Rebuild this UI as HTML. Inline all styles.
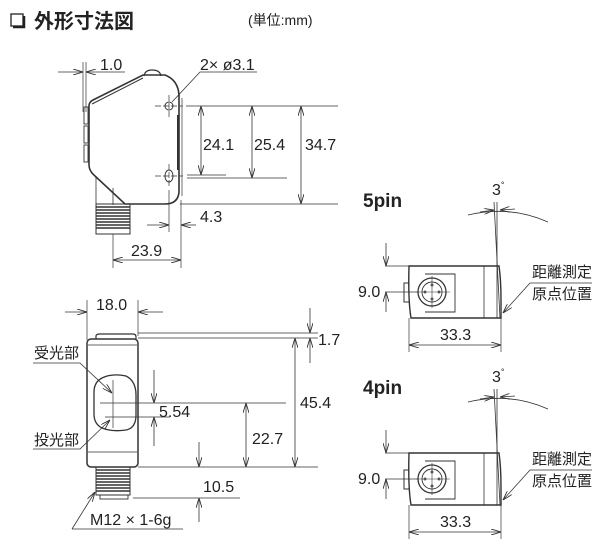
<!DOCTYPE html>
<html><head><meta charset="utf-8"><style>
html,body{margin:0;padding:0;background:#fff;width:610px;height:557px;overflow:hidden}
svg{display:block}
text{font-family:"Liberation Sans","Noto Sans CJK JP",sans-serif;fill:#222}
</style></head><body>
<svg width="610" height="557" viewBox="0 0 610 557" xmlns="http://www.w3.org/2000/svg">
<defs>
<marker id="a" viewBox="0 0 10 6" refX="10" refY="3" markerWidth="10" markerHeight="6" orient="auto-start-reverse" markerUnits="userSpaceOnUse"><path d="M0,0 L10,3 L0,6" fill="none" stroke="#333" stroke-width="0.9"/></marker>
</defs>
<g stroke="#333" fill="none" stroke-width="1">
<rect x="11" y="14" width="12" height="12" fill="#fff" stroke="#222" stroke-width="1.3"/>
<path d="M13,27 H24 V16" stroke="#222" stroke-width="2.5"/>
</g>
<text x="34" y="28" font-size="20" font-weight="bold">外形寸法図</text>
<text x="248" y="25" font-size="14">(単位:mm)</text>

<!-- TOP VIEW -->
<g stroke="#333" fill="none" stroke-width="1">
<line x1="83" y1="62" x2="83" y2="112" stroke-width="0.7"/>
<line x1="86" y1="62" x2="86" y2="112" stroke-width="0.7"/>
<line x1="58" y1="72" x2="83" y2="72" marker-end="url(#a)" stroke-width="0.8"/>
<line x1="125" y1="72" x2="86" y2="72" marker-end="url(#a)" stroke-width="0.8"/>
<path d="M89,106 Q89,102 93,100 L143,75 L165,75 Q178,80 179,95 L179,192 Q178,204 165,204 L125,204 L95,176 Q89,171 89,165 Z" stroke-width="1.6"/>
<path d="M92,104 L143,78" stroke-width="1"/>
<path d="M144,76 Q145,70 152,70 Q160,70 161,76" stroke-width="1.2"/>
<path d="M182,98 L182,196" stroke-width="0.7"/>
<rect x="84" y="107" width="4" height="17" stroke-width="0.9"/>
<rect x="84" y="126" width="4" height="17" stroke-width="0.9"/>
<rect x="84" y="145" width="4" height="17" stroke-width="0.9"/>
<line x1="178" y1="115" x2="178" y2="170" stroke-width="2"/>
<line x1="96" y1="176" x2="96" y2="204" stroke-width="0.8"/>
<line x1="113" y1="188" x2="113" y2="205" stroke-width="0.8"/>
<rect x="96" y="204" width="34" height="30" stroke-width="1"/>
<path d="M96,207H130M96,210H130M96,213H130M96,216H130M96,219H130M96,222H130M96,225H130M96,228H130" stroke-width="1.4"/>
<circle cx="169" cy="106" r="4" stroke-width="1"/>
<ellipse cx="169" cy="176" rx="4" ry="6" stroke-width="1"/>
<path d="M155,106H183M169,95V117M155,176H183M169,164V188" stroke-width="0.7" stroke-dasharray="6,2"/>
<path d="M172,102 L200,72 H257" stroke-width="0.8"/>
<line x1="186" y1="106" x2="338" y2="106" stroke-width="0.8"/>
<line x1="187" y1="175" x2="226" y2="175" stroke-width="0.8"/>
<line x1="187" y1="178" x2="287" y2="178" stroke-width="0.8"/>
<line x1="180" y1="204" x2="338" y2="204" stroke-width="0.8"/>
<line x1="201" y1="106" x2="201" y2="175" marker-start="url(#a)" marker-end="url(#a)" stroke-width="0.8"/>
<line x1="252" y1="106" x2="252" y2="178" marker-start="url(#a)" marker-end="url(#a)" stroke-width="0.8"/>
<line x1="301" y1="106" x2="301" y2="204" marker-start="url(#a)" marker-end="url(#a)" stroke-width="0.8"/>
<line x1="169" y1="190" x2="169" y2="232" stroke-width="0.7"/>
<line x1="181" y1="200" x2="181" y2="268" stroke-width="0.7"/>
<line x1="147" y1="225" x2="169" y2="225" marker-end="url(#a)" stroke-width="0.8"/>
<line x1="196" y1="225" x2="181" y2="225" marker-end="url(#a)" stroke-width="0.8"/>
<line x1="113" y1="234" x2="113" y2="268" stroke-width="0.7"/>
<line x1="113" y1="260" x2="181" y2="260" marker-start="url(#a)" marker-end="url(#a)" stroke-width="0.8"/>
</g>
<g font-size="16">
<text x="100" y="70">1.0</text>
<text x="200" y="70">2× ø3.1</text>
<text x="203" y="150">24.1</text>
<text x="254" y="150">25.4</text>
<text x="305" y="150">34.7</text>
<text x="200" y="222">4.3</text>
<text x="131" y="256">23.9</text>
</g>

<!-- BOTTOM VIEW -->
<g stroke="#333" fill="none" stroke-width="1">
<line x1="87" y1="300" x2="87" y2="340" stroke-width="0.7"/>
<line x1="138" y1="300" x2="138" y2="336" stroke-width="0.7"/>
<line x1="65" y1="312" x2="87" y2="312" marker-end="url(#a)" stroke-width="0.8"/>
<line x1="163" y1="312" x2="138" y2="312" marker-end="url(#a)" stroke-width="0.8"/>
<rect x="87" y="339" width="51" height="128" rx="4" stroke-width="1.5"/>
<path d="M96,339 L96,336 Q96,334 100,334 L133,334 Q136,334 136,337 L136,339" stroke-width="1.2"/>
<line x1="88" y1="345" x2="137" y2="345" stroke-width="0.8"/>
<line x1="88" y1="452" x2="137" y2="452" stroke-width="0.8"/>
<path d="M102,378 Q112,373 126,376 Q136,381 136,395 L136,415 Q136,428 126,430 Q112,432 102,428 Q94,424 94,414 L94,392 Q94,382 102,378 Z" stroke-width="1.3"/>
<line x1="113" y1="380" x2="113" y2="428" stroke-width="0.7"/>
<line x1="138" y1="333" x2="318" y2="333" stroke-width="0.8"/>
<line x1="138" y1="338" x2="318" y2="338" stroke-width="0.8"/>
<line x1="310" y1="308" x2="310" y2="333" marker-end="url(#a)" stroke-width="0.8"/>
<line x1="310" y1="363" x2="310" y2="338" marker-end="url(#a)" stroke-width="0.8"/>
<line x1="295" y1="338" x2="295" y2="467" marker-start="url(#a)" marker-end="url(#a)" stroke-width="0.8"/>
<line x1="138" y1="467" x2="318" y2="467" stroke-width="0.8"/>
<line x1="100" y1="403" x2="286" y2="403" stroke-width="0.8"/>
<line x1="246" y1="403" x2="246" y2="467" marker-start="url(#a)" marker-end="url(#a)" stroke-width="0.8"/>
<line x1="105" y1="417" x2="170" y2="417" stroke-width="0.8"/>
<line x1="154" y1="370" x2="154" y2="403" marker-end="url(#a)" stroke-width="0.8"/>
<line x1="154" y1="446" x2="154" y2="417" marker-end="url(#a)" stroke-width="0.8"/>
<line x1="133" y1="498" x2="240" y2="498" stroke-width="0.8"/>
<line x1="199" y1="442" x2="199" y2="467" marker-end="url(#a)" stroke-width="0.8"/>
<line x1="199" y1="522" x2="199" y2="498" marker-end="url(#a)" stroke-width="0.8"/>
<rect x="96" y="467" width="34" height="28" stroke-width="1"/>
<path d="M96,470H130M96,473H130M96,476H130M96,479H130M96,482H130M96,485H130M96,488H130M96,491H130" stroke-width="1.4"/>
<rect x="100" y="495" width="28" height="4" stroke-width="0.9"/>
<path d="M72,529 L95,492" marker-end="url(#a)" stroke-width="0.8"/>
<line x1="72" y1="529" x2="183" y2="529" stroke-width="0.8"/>
<path d="M33,363 H80 L112,393" marker-end="url(#a)" stroke-width="0.8"/>
<path d="M33,449 H80 L110,420" marker-end="url(#a)" stroke-width="0.8"/>
</g>
<g font-size="16">
<text x="96" y="310">18.0</text>
<text x="318" y="345">1.7</text>
<text x="300" y="408">45.4</text>
<text x="159" y="417">5.54</text>
<text x="252" y="444">22.7</text>
<text x="203" y="492">10.5</text>
<text x="90" y="525">M12 × 1-6g</text>
<text x="34" y="358" font-size="15">受光部</text>
<text x="34" y="445" font-size="15">投光部</text>
</g>

<!-- SIDE VIEWS -->
<g>
<g stroke="#333" fill="none" stroke-width="1">
<path d="M468,215 Q510,205 548,222" stroke-width="0.8"/>
<line x1="480" y1="212" x2="494" y2="210" marker-end="url(#a)" stroke-width="0.8"/>
<line x1="515" y1="209" x2="500" y2="210" marker-end="url(#a)" stroke-width="0.8"/>
<line x1="497" y1="202" x2="497" y2="318" stroke-width="0.8"/>
<line x1="494" y1="202" x2="500" y2="318" stroke-width="0.8"/>
<path d="M411,266 H499 Q501,280 501,300 L501,318 H411 Q408,300 409,266 Z" stroke-width="1.4"/>
<line x1="484" y1="266" x2="484" y2="318" stroke-width="0.8"/>
<path d="M425,274 H455 V312 H425" stroke-width="0.9"/>
<circle cx="432" cy="292" r="14" stroke-width="1.3"/>
<circle cx="432" cy="292" r="10" stroke-width="0.9"/>
<path d="M416,292H450M432,276V308" stroke-width="0.6"/>
<rect x="404" y="283" width="5" height="19" stroke-width="1"/>
<line x1="385" y1="266" x2="412" y2="266" stroke-width="0.7"/>
<line x1="385" y1="292" x2="418" y2="292" stroke-width="0.7"/>
<line x1="386" y1="243" x2="386" y2="266" marker-end="url(#a)" stroke-width="0.8"/>
<line x1="386" y1="312" x2="386" y2="292" marker-end="url(#a)" stroke-width="0.8"/>
<line x1="409" y1="318" x2="409" y2="352" stroke-width="0.7"/>
<line x1="501" y1="318" x2="501" y2="352" stroke-width="0.7"/>
<line x1="409" y1="345" x2="501" y2="345" marker-start="url(#a)" marker-end="url(#a)" stroke-width="0.8"/>
<path d="M592,283 H530 L503,313" marker-end="url(#a)" stroke-width="0.8"/>
</g>
<circle cx="432" cy="285" r="1.5" fill="#555"/><circle cx="432" cy="299" r="1.5" fill="#555"/>
<circle cx="425" cy="292" r="1.5" fill="#555"/><circle cx="439" cy="292" r="1.5" fill="#555"/>
<text x="363" y="207" font-size="19" font-weight="bold">5pin</text>
<text x="492" y="195" font-size="16">3<tspan font-size="9" dy="-7">°</tspan></text>
<text x="358" y="297" font-size="16">9.0</text>
<text x="440" y="340" font-size="16">33.3</text>
<text x="532" y="277" font-size="15">距離測定</text>
<text x="532" y="299" font-size="15">原点位置</text>
</g>
<g transform="translate(0,187)">
<g stroke="#333" fill="none" stroke-width="1">
<path d="M468,215 Q510,205 548,222" stroke-width="0.8"/>
<line x1="480" y1="212" x2="494" y2="210" marker-end="url(#a)" stroke-width="0.8"/>
<line x1="515" y1="209" x2="500" y2="210" marker-end="url(#a)" stroke-width="0.8"/>
<line x1="497" y1="202" x2="497" y2="318" stroke-width="0.8"/>
<line x1="494" y1="202" x2="500" y2="318" stroke-width="0.8"/>
<path d="M411,266 H499 Q501,280 501,300 L501,318 H411 Q408,300 409,266 Z" stroke-width="1.4"/>
<line x1="484" y1="266" x2="484" y2="318" stroke-width="0.8"/>
<path d="M425,274 H455 V312 H425" stroke-width="0.9"/>
<circle cx="432" cy="292" r="14" stroke-width="1.3"/>
<circle cx="432" cy="292" r="10" stroke-width="0.9"/>
<path d="M416,292H450M432,276V308" stroke-width="0.6"/>
<rect x="404" y="283" width="5" height="19" stroke-width="1"/>
<line x1="385" y1="266" x2="412" y2="266" stroke-width="0.7"/>
<line x1="385" y1="292" x2="418" y2="292" stroke-width="0.7"/>
<line x1="386" y1="243" x2="386" y2="266" marker-end="url(#a)" stroke-width="0.8"/>
<line x1="386" y1="312" x2="386" y2="292" marker-end="url(#a)" stroke-width="0.8"/>
<line x1="409" y1="318" x2="409" y2="352" stroke-width="0.7"/>
<line x1="501" y1="318" x2="501" y2="352" stroke-width="0.7"/>
<line x1="409" y1="345" x2="501" y2="345" marker-start="url(#a)" marker-end="url(#a)" stroke-width="0.8"/>
<path d="M592,283 H530 L503,313" marker-end="url(#a)" stroke-width="0.8"/>
</g>
<circle cx="432" cy="285" r="1.5" fill="#555"/><circle cx="432" cy="299" r="1.5" fill="#555"/>
<circle cx="425" cy="292" r="1.5" fill="#555"/><circle cx="439" cy="292" r="1.5" fill="#555"/>
<text x="363" y="207" font-size="19" font-weight="bold">4pin</text>
<text x="492" y="195" font-size="16">3<tspan font-size="9" dy="-7">°</tspan></text>
<text x="358" y="297" font-size="16">9.0</text>
<text x="440" y="340" font-size="16">33.3</text>
<text x="532" y="277" font-size="15">距離測定</text>
<text x="532" y="299" font-size="15">原点位置</text>
</g>
</svg>
</body></html>
